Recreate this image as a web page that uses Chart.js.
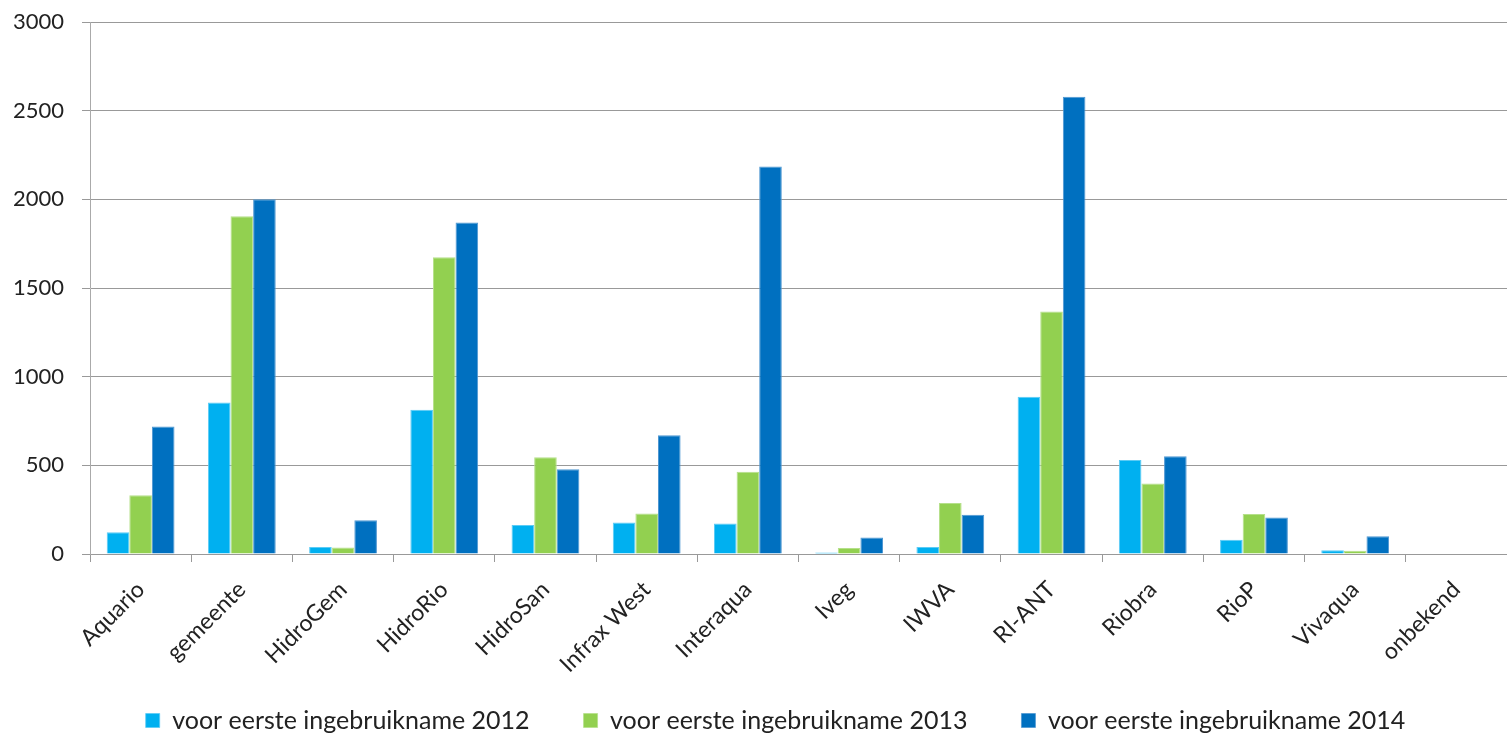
<!DOCTYPE html>
<html>
<head>
<meta charset="utf-8">
<script src="https://cdn.jsdelivr.net/npm/chart.js@4"></script>
<style>
html,body{margin:0;padding:0;background:#fff;}
#wrap{width:1507px;height:737px;position:relative;}
</style>
</head>
<body>
<div id="wrap"><canvas id="c" width="1507" height="737"></canvas></div>
<script>
const categories = ["Aquario","gemeente","HidroGem","HidroRio","HidroSan","Infrax West","Interaqua","Iveg","IWVA","RI-ANT","Riobra","RioP","Vivaqua","onbekend"];
const series2012 = [123, 855, 40, 813, 164, 178, 172, 8, 40, 887, 530, 81, 21, 3];
const series2013 = [332, 1905, 36, 1674, 546, 229, 464, 34, 287, 1368, 398, 225, 19, 0];
const series2014 = [719, 2000, 191, 1870, 478, 670, 2185, 93, 221, 2579, 551, 206, 100, 0];
const seriesLabels = ["voor eerste ingebruikname 2012","voor eerste ingebruikname 2013","voor eerste ingebruikname 2014"];
const yTicks = [0, 500, 1000, 1500, 2000, 2500, 3000];

const colors = ["#00B0F0", "#92D050", "#0070C0"];
const borders = ["#5CCBF5", "#B5E08A", "#4F97D2"];
const FONT = "Lato, 'Open Sans', sans-serif";
const LEG_PAD = 54;

const layoutFix = {
  id: 'layoutFix',
  afterLayout(chart) {
    const xs = chart.scales.x;
    xs.bottom = chart.height;
    const lg = chart.legend;
    lg.left += 22;
    lg.right += 22;
  }
};

new Chart(document.getElementById('c'), {
  type: 'bar',
  data: {
    labels: categories,
    datasets: [series2012, series2013, series2014].map((d, i) => ({
      label: seriesLabels[i],
      data: d,
      backgroundColor: colors[i],
      borderColor: borders[i],
      borderWidth: { top: 1, left: 1, right: 1, bottom: 0 },
      borderSkipped: 'bottom',
      categoryPercentage: 0.67,
      barPercentage: 1.0
    }))
  },
  plugins: [layoutFix],
  options: {
    responsive: false,
    animation: false,
    devicePixelRatio: 1,
    layout: { padding: { top: 22, right: 0, left: 0, bottom: -6 } },
    plugins: {
      tooltip: { enabled: false },
      legend: {
        position: 'bottom',
        labels: {
          color: '#222',
          font: { family: FONT, size: 25 },
          boxWidth: 14,
          boxHeight: 14,
          padding: LEG_PAD,
          useBorderRadius: false
        }
      }
    },
    scales: {
      x: {
        grid: { display: true, drawOnChartArea: false, drawTicks: true, tickLength: 8, color: '#999', offset: true },
        border: { display: true, color: '#999', width: 1 },
        ticks: {
          color: '#222',
          font: { family: FONT, size: 23 },
          minRotation: 45,
          maxRotation: 45,
          padding: 14
        },
        afterFit: (s) => { s.height = 100; }
      },
      y: {
        min: 0,
        max: 3000,
        afterBuildTicks: (s) => { s.ticks = yTicks.map(v => ({ value: v })); },
        grid: { color: '#999', tickLength: 8, lineWidth: 1 },
        border: { display: true, color: '#aaa', width: 1 },
        ticks: {
          color: '#222',
          font: { family: FONT, size: 22 },
          padding: 18,
          callback: (v) => String(v)
        },
        afterFit: (s) => { s.width = 90; s.paddingTop = 0; s.paddingBottom = 0; }
      }
    }
  }
});
</script>
</body>
</html>
